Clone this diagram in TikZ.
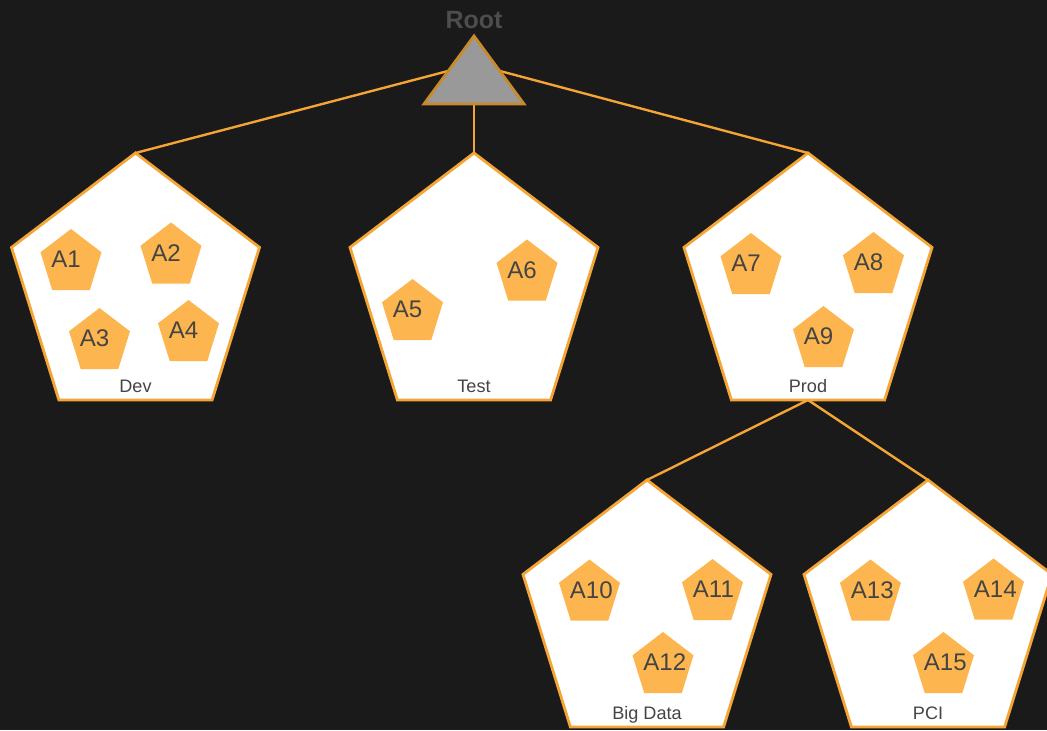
\documentclass[tikz,border=0pt]{standalone}
\usepackage{fontspec}
\setmainfont{Liberation Sans}
\usetikzlibrary{positioning}
\definecolor{bgdark}{HTML}{1A1A1A}
\definecolor{envorange}{HTML}{F5A536}
\definecolor{apporange}{HTML}{FDB64F}
\definecolor{rootgray}{HTML}{999999}
\definecolor{rootedge}{HTML}{C98A2E}
\definecolor{labgray}{HTML}{444444}
\definecolor{roottext}{HTML}{4D4D4D}

\begin{document}
\begin{tikzpicture}[x=0.02cm, y=-0.02cm, line join=miter,
  link/.style={envorange, line width=1.35pt},
  envpent/.style={draw=envorange, fill=white, line width=1.6pt},
  apppent/.style={fill=apporange},
  applab/.style={anchor=base west, inner sep=0pt, text=labgray,
    font=\fontsize{13.7}{15}\selectfont},
  envlab/.style={anchor=base, inner sep=0pt, text=labgray,
    font=\fontsize{10.3}{12}\selectfont}]
  \fill[bgdark] (0,0) rectangle (1047,730);
  \path[use as bounding box] (0,0) rectangle (1047,730);
  \clip (0,0) rectangle (1047,730);
  % pixel grid, y pointing down
  \coordinate (root-w) at (448,71);
  \coordinate (root-e) at (500,71);
  \coordinate (root-s) at (474,104);
  \foreach \nm/\cx/\cy in {dev/135.5/153,test/474/153,prod/808/153,
    big/647/480,pci/928/480} {
    \coordinate (\nm-top) at (\cx,\cy);
    \coordinate (\nm-bot) at (\cx,\cy+247);
  }
  \draw[link] (root-w) -- (dev-top);
  \draw[link] (root-s) -- (test-top);
  \draw[link] (root-e) -- (prod-top);
  \draw[link] (prod-bot) -- (big-top);
  \draw[link] (prod-bot) -- (pci-top);
  % environments
  \foreach \nm/\lab in {dev/Dev,test/Test,prod/Prod,big/Big Data,pci/PCI} {
    \draw[envpent] (\nm-top) -- ++(124,94.4) -- ++(-47.4,152.6)
      -- ++(-153.2,0) -- ++(-47.4,-152.6) -- cycle;
    \node[envlab] (\nm-lab) at ([yshift=-239*0.02cm]\nm-top) {\lab};
  }
  % accounts
  \foreach \cx/\cy/\lab in {71/259.5/A1,171/253/A2,99.5/338.5/A3,
    188.5/330.5/A4,412.5/309.5/A5,527/270/A6,751/263.5/A7,
    873.5/262.5/A8,823.5/336.5/A9,589.5/590/A10,712.5/589.5/A11,
    663/662.5/A12,870.5/590/A13,993.5/589/A14,943.5/662.5/A15} {
    \fill[apppent] (\cx,\cy-30.5) -- ++(30.5,23.3) -- ++(-11.7,37.7)
      -- ++(-37.6,0) -- ++(-11.7,-37.7) -- cycle;
    \node[applab] (\lab) at (\cx-20,\cy+8) {\lab};
  }
  % root
  \draw[fill=rootgray, draw=rootedge, line width=1.6pt]
    (474,36) -- (524,104) -- (424,104) -- cycle;
  \node[anchor=base, inner sep=0pt, text=roottext,
    font=\fontsize{14.2}{16}\selectfont\bfseries] (root) at (474,29) {Root};
\end{tikzpicture}
\end{document}
